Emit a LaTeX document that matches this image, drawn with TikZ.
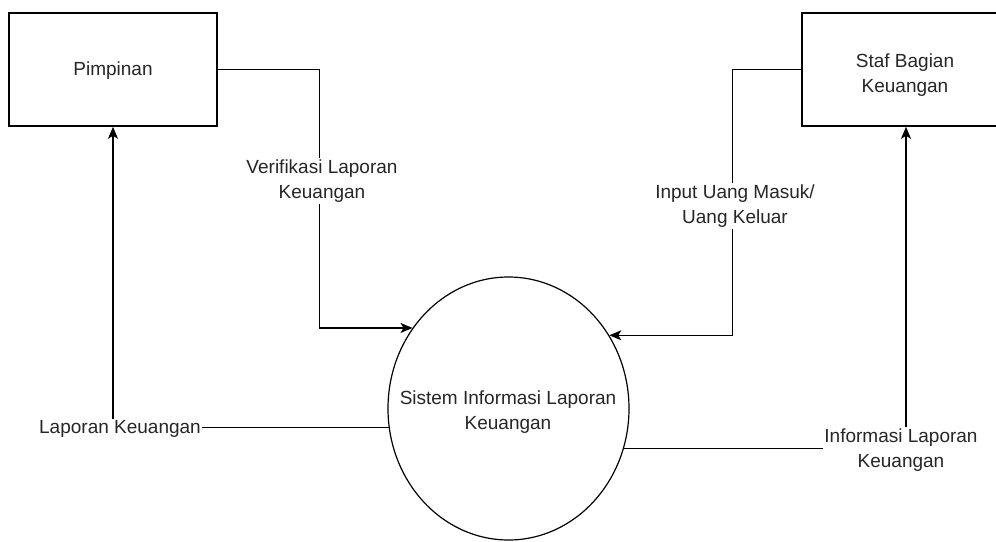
\documentclass[tikz,border=0pt]{standalone}
\usepackage{fontspec}
\setmainfont{Liberation Sans}
\usetikzlibrary{shapes.geometric,arrows.meta}
\begin{document}
\begin{tikzpicture}[x=1pt,y=-1pt,
  ent/.style={draw=black,line width=1.6pt,minimum width=208pt,minimum height=113pt,inner sep=0pt},
  txt/.style={font=\fontsize{19}{25}\selectfont,text=black!85,align=center,inner sep=1.5pt},
  lbl/.style={txt,fill=white},
  flow/.style={draw=black,line width=1.3pt},
  arr/.style={flow,-{Stealth[length=12pt,width=10pt,inset=3pt]}}]
\useasboundingbox (0,0) rectangle (996,541);
\node[ent] (pim) at (113,69.5) {};
\node[txt] (pimt) at (113,71) {Pimpinan};
\node[ent] (staf) at (906,69.5) {};
\node[txt] (staft) at (905,75) {Staf Bagian\\Keuangan};
\node[draw=black,line width=1.2pt,ellipse,minimum width=241pt,minimum height=263pt,inner sep=0pt] (sys) at (508.5,408.5) {};
\node[txt] (syst) at (508,412) {Sistem Informasi Laporan\\Keuangan};
% flows
\draw[arr] (pim.east) -- ++(102,0) |- (sys.140.9);
\draw[arr] (staf.west) -- ++(-69,0) |- (sys.36.4);
\draw[arr] (sys.189.8) -| (pim.south);
\draw[arr] (sys.-19) -| (staf.south);
% labels
\node[lbl] (l1) at (322,181) {Verifikasi Laporan\\Keuangan};
\node[lbl] (l2) at (735,206) {Input Uang Masuk/\\Uang Keluar};
\node[lbl] (l3) at (120,429) {Laporan Keuangan};
\node[lbl] (l4) at (901,450) {Informasi Laporan\\Keuangan};
\end{tikzpicture}
\end{document}
